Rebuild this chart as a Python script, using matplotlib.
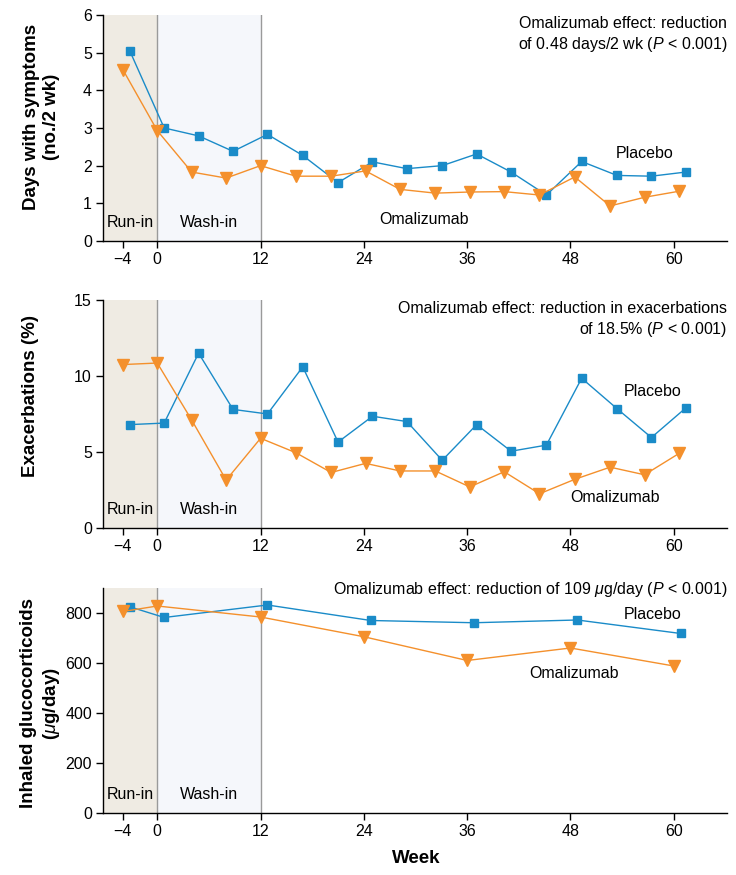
import matplotlib
matplotlib.use("Agg")
import matplotlib.pyplot as plt
import matplotlib.transforms as mtransforms
from matplotlib import font_manager

plt.rcParams['font.family'] = ['Liberation Sans', 'DejaVu Sans']
plt.rcParams['mathtext.fontset'] = 'custom'
plt.rcParams['mathtext.rm'] = 'Liberation Sans'
plt.rcParams['mathtext.it'] = 'Liberation Sans:italic'
plt.rcParams['axes.unicode_minus'] = True

# the source uses a condensed bold face for axis titles; use it if it is there
try:
    font_manager.findfont("Liberation Sans Narrow", fallback_to_default=False)
    LABEL_FAMILY, LABEL_SIZE = ["Liberation Sans Narrow", "Liberation Sans"], 15.5
except ValueError:
    LABEL_FAMILY, LABEL_SIZE = ["Liberation Sans"], 13.5

BLUE = "#1a8bc8"
ORANGE = "#f4902c"
RUNIN_BG = "#efebe3"
WASHIN_BG = "#f5f7fb"

# weeks of the visits (placebo drawn slightly shifted, as in the source figure)
weeks_biweekly = [-4, 0, 4, 8, 12, 16.1, 20.2, 24.2, 28.2, 32.3, 36.3, 40.3, 44.4, 48.5, 52.6, 56.6, 60.6]
weeks_quarterly = [-4, 0, 12, 24, 36, 48, 60]
placebo_shift = 0.8

# Days with symptoms (no./2 wk)
symptoms_placebo = [5.05, 3.0, 2.79, 2.38, 2.83, 2.27, 1.55, 2.1, 1.92, 2.0, 2.31, 1.83, 1.22, 2.11, 1.74, 1.72, 1.83]
symptoms_omalizumab = [4.55, 2.93, 1.83, 1.67, 2.0, 1.72, 1.72, 1.86, 1.37, 1.27, 1.3, 1.31, 1.22, 1.7, 0.93, 1.16, 1.32]

# Exacerbations (%)
exac_placebo = [6.8, 6.9, 11.5, 7.8, 7.5, 10.6, 5.65, 7.35, 7.0, 4.45, 6.8, 5.05, 5.45, 9.85, 7.85, 5.95, 7.9]
exac_omalizumab = [10.75, 10.85, 7.1, 3.15, 5.9, 4.95, 3.65, 4.25, 3.75, 3.75, 2.7, 3.7, 2.25, 3.2, 4.0, 3.5, 4.9]

# Inhaled glucocorticoids (ug/day)
igc_placebo = [825, 782, 832, 770, 761, 772, 718]
igc_omalizumab = [806, 828, 784, 705, 610, 660, 588]

xticks = [-4, 0, 12, 24, 36, 48, 60]

panels = [
    dict(pos=[0.140, 0.7246, 0.848, 0.2583], ylim=(0, 6), yticks=[0, 1, 2, 3, 4, 5, 6],
         x=weeks_biweekly, placebo=symptoms_placebo, omalizumab=symptoms_omalizumab,
         ylabel="Days with symptoms\n(no./2 wk)", ylabel_xy=(0.056, 0.866),
         note="Omalizumab effect: reduction\nof 0.48 days/2 wk ($P$ < 0.001)", note_y=0.995,
         plac_lbl=(53.2, 2.31), omal_lbl=(25.8, 0.58)),
    dict(pos=[0.140, 0.3966, 0.848, 0.2606], ylim=(0, 15), yticks=[0, 5, 10, 15],
         x=weeks_biweekly, placebo=exac_placebo, omalizumab=exac_omalizumab,
         ylabel="Exacerbations (%)", ylabel_xy=(0.042, 0.547),
         note="Omalizumab effect: reduction in exacerbations\nof 18.5% ($P$ < 0.001)", note_y=0.995,
         plac_lbl=(54.2, 9.0), omal_lbl=(48.0, 2.0)),
    dict(pos=[0.140, 0.0709, 0.848, 0.2571], ylim=(0, 900), yticks=[0, 200, 400, 600, 800],
         x=weeks_quarterly, placebo=igc_placebo, omalizumab=igc_omalizumab,
         ylabel="Inhaled glucocorticoids\n($\\mu$g/day)", ylabel_xy=(0.056, 0.196),
         note="Omalizumab effect: reduction of 109 $\\mu$g/day ($P$ < 0.001)", note_y=1.035,
         plac_lbl=(54.2, 794), omal_lbl=(43.2, 556)),
]

fig = plt.figure(figsize=(7.36, 8.75), dpi=100)

for p in panels:
    ax = fig.add_axes(p["pos"])
    ax.set_xlim(-6.3, 66.2)
    ax.set_ylim(*p["ylim"])

    ax.axvspan(-6.3, 0, color=RUNIN_BG, lw=0, zorder=0)
    ax.axvspan(0, 12, color=WASHIN_BG, lw=0, zorder=0)
    ax.axvline(0, color="#9a9a9a", lw=1, zorder=1)
    ax.axvline(12, color="#9a9a9a", lw=1, zorder=1)

    xp = [w + placebo_shift for w in p["x"]]
    ax.plot(xp, p["placebo"], color=BLUE, lw=1, marker="s", ms=6, zorder=3)
    ax.plot(p["x"], p["omalizumab"], color=ORANGE, lw=1, marker="v", ms=8.5, zorder=3)

    for s in ["top", "right"]:
        ax.spines[s].set_visible(False)
    for s in ["left", "bottom"]:
        ax.spines[s].set_linewidth(1)
    ax.set_xticks(xticks)
    ax.set_yticks(p["yticks"])
    ax.tick_params(direction="out", length=5, width=1, labelsize=11.5, pad=3)

    trans = mtransforms.blended_transform_factory(ax.transData, ax.transAxes)
    ax.text(-5.85, 0.08, "Run-in", transform=trans, fontsize=11.5, va="center", ha="left")
    ax.text(2.65, 0.08, "Wash-in", transform=trans, fontsize=11.5, va="center", ha="left")

    ax.text(p["plac_lbl"][0], p["plac_lbl"][1], "Placebo", fontsize=11.5, va="center", ha="left")
    ax.text(p["omal_lbl"][0], p["omal_lbl"][1], "Omalizumab", fontsize=11.5, va="center", ha="left")

    ax.text(1.0, p["note_y"], p["note"], transform=ax.transAxes, fontsize=11.5,
            ha="right", va="top", linespacing=1.3)

    fig.text(p["ylabel_xy"][0], p["ylabel_xy"][1], p["ylabel"], rotation=90,
             family=LABEL_FAMILY, fontsize=LABEL_SIZE, fontweight="bold",
             ha="center", va="center", multialignment="center", linespacing=1.25)

fig.text(0.565, 0.019, "Week", family=LABEL_FAMILY, fontsize=LABEL_SIZE,
         fontweight="bold", ha="center", va="center")

fig.savefig("out.png", dpi=100)
